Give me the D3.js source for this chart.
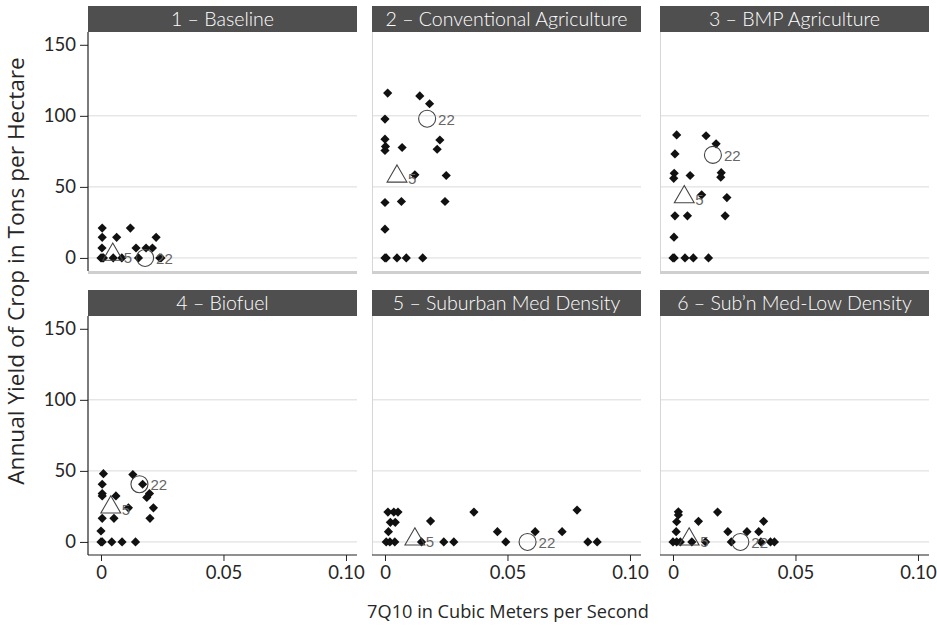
<!DOCTYPE html>
<html><head><meta charset="utf-8">
<script src="https://cdn.jsdelivr.net/npm/d3@7"></script>
<style>body{margin:0;background:#fff;} text{font-family:Lato,"Open Sans",sans-serif;}</style>
</head><body>
<svg id="chart" width="937" height="628"></svg>
<script>
// ---------- data ----------
const panelTitles = ["1 \u2013 Baseline","2 \u2013 Conventional Agriculture","3 \u2013 BMP Agriculture",
  "4 \u2013 Biofuel","5 \u2013 Suburban Med Density","6 \u2013 Sub\u2019n Med-Low Density"];
const yTicks = [0, 50, 100, 150];
const xTicks = [0, 0.05, 0.10];
const xTickLabels = ["0", "0.05", "0.10"];

// flow (7Q10) and yield for each basin, per scenario
const flow1 = [0.0005,0.012,0.0005,0.0064,0.0225,0.0004,0.0143,0.0184,0.021,0,0.0005,0.001,0.005,0.0085,0.0153,0.024,0.0245];
const yield1 = [21,21,14.5,14.5,14.5,7,7,7,7,0,0,0,0,0,0,0,0];
const flow2 = [0.0011,0.0142,0.0182,0,0,0.0224,0,0.0002,0.007,0.0213,0.0122,0.025,0,0.0067,0.0245,0,0,0.0005,0.0049,0.0087,0.0154];
const yield2 = [116,114,108.5,97.7,83.6,83,75.6,78.5,77.7,76.5,58.5,58,39,39.7,39.7,20.2,0,0,0,0,0];
const flow3 = [0.0015,0.0135,0.0176,0.0008,0.0197,0.0195,0.0005,0.0003,0.007,0.0117,0.022,0.0008,0.0059,0.0213,0.0004,0,0.0005,0.0049,0.0083,0.0145];
const yield3 = [86.6,86,80.3,73.2,60,56.8,59.6,56,58,44.4,42.5,29.6,29.6,29.6,14.6,0,0,0,0,0];
const flow4 = [0.001,0.013,0.0005,0.017,0.0005,0.0005,0.0061,0.0198,0.0187,0.0214,0.0112,0.0005,0.0053,0.020,0,0,0.0005,0.0044,0.0086,0.0141];
const yield4 = [48,47.4,40.6,40.6,34,32.4,32.4,34,31.3,24,24,16.6,16.6,16.6,7.7,0,0,0,0,0];
const flow5 = [0.0012,0.0036,0.0053,0.0363,0.0784,0.0022,0.0042,0.0186,0.0014,0.0459,0.0613,0.0723,0.0005,0.002,0.004,0.0149,0.024,0.0281,0.0493,0.0828,0.0866];
const yield5 = [21,21,21,21,22.4,13.8,13.8,14.7,7.2,7.2,7.2,7.2,0,0,0,0,0,0,0,0,0];
const flow6 = [0.0022,0.0022,0.0182,0.0015,0.0104,0.037,0.0013,0.0224,0.0302,0.035,0,0.0015,0.003,0.0077,0.0133,0.0238,0.0359,0.0398,0.0414];
const yield6 = [21.2,19,21,14.2,14.5,14.5,7.2,7.2,7.2,7.2,0,0,0,0,0,0,0,0,0];
const flows = [flow1, flow2, flow3, flow4, flow5, flow6];
const yields = [yield1, yield2, yield3, yield4, yield5, yield6];

// highlighted basins 5 (triangle) and 22 (circle)
const basin5Flow = [0.0048,0.0049,0.0046,0.004,0.0122,0.0066];
const basin5Yield = [1,56,41.5,23,0.5,0.5];
const basin22Flow = [0.018,0.0172,0.0163,0.0157,0.0582,0.0275];
const basin22Yield = [0,98,72.5,40.6,0,0];

// ---------- layout ----------
const svg = d3.select("#chart");
const colLeft = [88, 372, 660];
const panelW = 269;
const rowTop = [6, 290];
const headH = 26;
const plotH = 239;

const x = d3.scaleLinear().domain([-0.0053, 0.1045]).range([0, panelW]);
const y = d3.scaleLinear().domain([-9.2, 159]).range([plotH, 0]);

const diamond = r => `M0,${-r}L${r},0L0,${r}L${-r},0Z`;
const triangle = d3.symbol().type(d3.symbolTriangle).size(170);

// fit a text element's font size so that it reaches a target length
function fitText(sel, base, target) {
  sel.attr("font-size", base);
  const len = sel.node().getComputedTextLength();
  if (len > 0) sel.attr("font-size", base * target / len);
  return sel;
}

// header font scale from the longest title
const probe = svg.append("text").attr("font-size", 18).style("font-family", "Lato, sans-serif").text(panelTitles[1]);
const headFont = 18 * 246 / probe.node().getComputedTextLength();
probe.remove();

panelTitles.forEach((title, i) => {
  const row = Math.floor(i / 3), col = i % 3;
  const g = svg.append("g").attr("transform", `translate(${colLeft[col]},${rowTop[row]})`);
  // header strip
  g.append("rect").attr("x", 0).attr("y", 0).attr("width", panelW).attr("height", headH).attr("fill", "#4f4f4f");
  g.append("text").attr("x", panelW / 2).attr("y", headH / 2 + 6.5).attr("text-anchor", "middle")
    .attr("fill", "#fff").attr("font-size", headFont).style("font-weight", 300).text(title);

  const p = g.append("g").attr("transform", `translate(0,${headH})`);
  // gridlines
  p.selectAll("line.grid").data([0, 50, 100]).enter().append("line")
    .attr("x1", 0).attr("x2", panelW).attr("y1", d => y(d)).attr("y2", d => y(d))
    .attr("stroke", "#dadada").attr("stroke-width", 1);

  // left edge
  if (col === 0) {
    const ya = p.append("g").call(d3.axisLeft(y).tickValues(yTicks).tickSize(8).tickPadding(4).tickFormat(d3.format("d")));
    ya.select(".domain").attr("d", `M0,0V${plotH}`).attr("stroke", "#222").attr("stroke-width", 1.2);
    ya.selectAll(".tick line").attr("stroke", "#222");
    ya.selectAll(".tick text").attr("font-size", 18.5).attr("fill", "#262626").style("font-family", "Lato, sans-serif");
  } else {
    p.append("line").attr("x1", 0.5).attr("x2", 0.5).attr("y1", 0).attr("y2", plotH).attr("stroke", "#d6d6d6");
  }
  // bottom
  if (row === 0) {
    p.append("line").attr("x1", 0).attr("x2", panelW).attr("y1", plotH + 1.5).attr("y2", plotH + 1.5)
      .attr("stroke", "#cfcfcf").attr("stroke-width", 3);
  } else {
    const xa = p.append("g").attr("transform", `translate(0,${plotH})`)
      .call(d3.axisBottom(x).tickValues(xTicks).tickSize(6).tickPadding(5).tickFormat((d, k) => xTickLabels[k]));
    xa.select(".domain").attr("d", `M0,0H${panelW}`).attr("stroke", "#222").attr("stroke-width", 1.2);
    xa.selectAll(".tick line").attr("stroke", "#222");
    xa.selectAll(".tick text").attr("font-size", 18.5).attr("fill", "#262626").style("font-family", "Lato, sans-serif");
  }

  // points
  const pts = flows[i].map((f, k) => ({ f, v: yields[i][k] }));
  p.selectAll("path.pt").data(pts).enter().append("path")
    .attr("d", diamond(4.6)).attr("transform", d => `translate(${x(d.f)},${y(d.v)})`).attr("fill", "#111");

  // basin 5 triangle
  const tx = x(basin5Flow[i]), ty = y(basin5Yield[i]);
  p.append("path").attr("d", triangle).attr("transform", `translate(${tx},${ty - 2})`)
    .attr("fill", "none").attr("stroke", "#444").attr("stroke-width", 1.1);
  p.append("text").attr("x", tx + 11).attr("y", ty + 6).attr("font-size", 15).attr("fill", "#666")
    .style("font-family", "'Liberation Sans', Arial, sans-serif").text("5");
  // basin 22 circle
  const cx = x(basin22Flow[i]), cy = y(basin22Yield[i]);
  p.append("circle").attr("cx", cx).attr("cy", cy).attr("r", 8.5)
    .attr("fill", "none").attr("stroke", "#444").attr("stroke-width", 1.1);
  p.append("text").attr("x", cx + 11).attr("y", cy + 6).attr("font-size", 15).attr("fill", "#666")
    .style("font-family", "'Liberation Sans', Arial, sans-serif").text("22");
});

// axis titles
fitText(svg.append("text").attr("transform", "translate(24,271) rotate(-90)").attr("text-anchor", "middle")
  .style("font-family", "'Open Sans', sans-serif").attr("fill", "#262626")
  .text("Annual Yield of Crop in Tons per Hectare"), 20, 428);
fitText(svg.append("text").attr("x", 508).attr("y", 618).attr("text-anchor", "middle")
  .style("font-family", "'Open Sans', sans-serif").attr("fill", "#262626")
  .text("7Q10 in Cubic Meters per Second"), 18, 282);
</script>
</body></html>
